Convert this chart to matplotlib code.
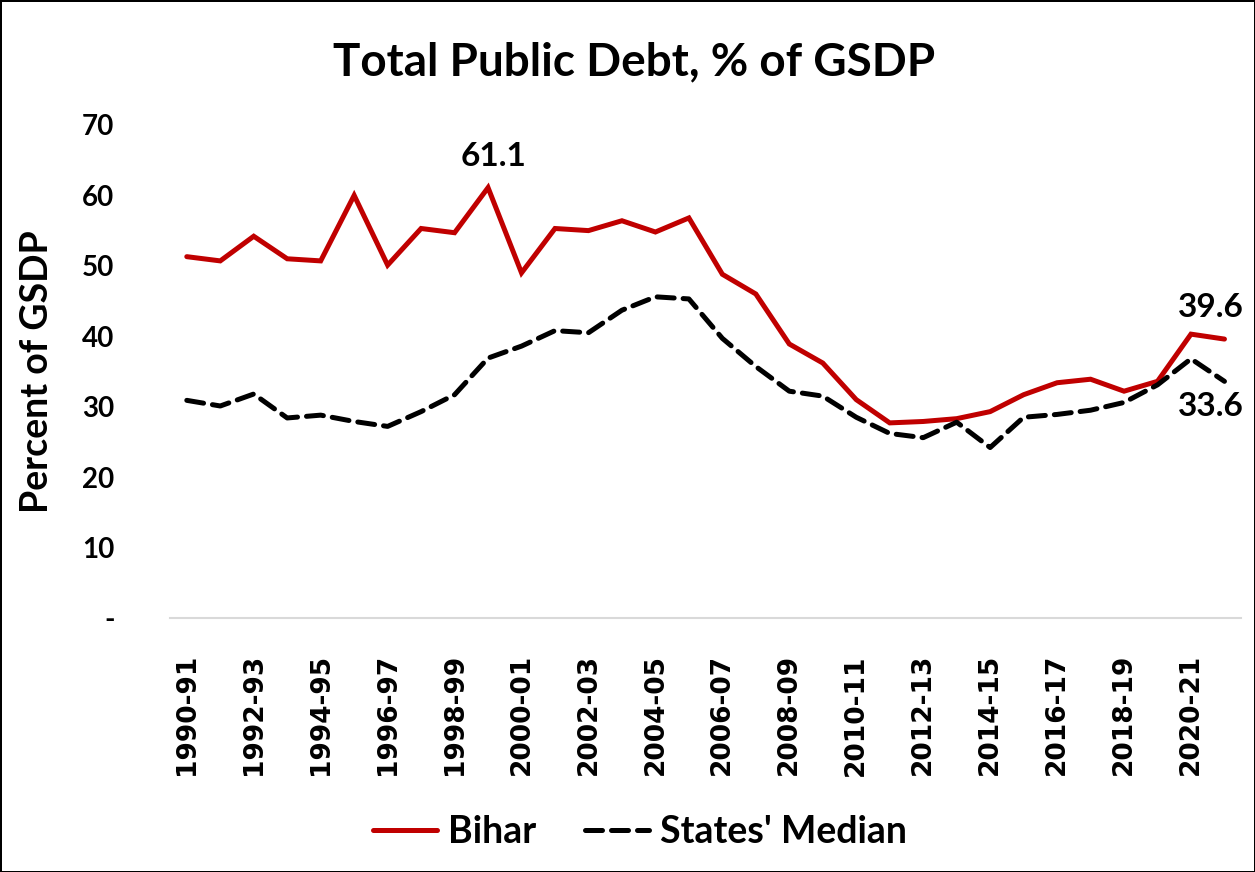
import matplotlib
matplotlib.use("Agg")
from matplotlib import pyplot as plt
import numpy as np

# Total public debt, % of GSDP
years = ["1990-91", "1991-92", "1992-93", "1993-94", "1994-95", "1995-96", "1996-97", "1997-98",
         "1998-99", "1999-00", "2000-01", "2001-02", "2002-03", "2003-04", "2004-05", "2005-06",
         "2006-07", "2007-08", "2008-09", "2009-10", "2010-11", "2011-12", "2012-13", "2013-14",
         "2014-15", "2015-16", "2016-17", "2017-18", "2018-19", "2019-20", "2020-21", "2021-22"]

bihar = [51.3, 50.7, 54.2, 51.0, 50.7, 60.0, 50.1, 55.3, 54.7, 61.1, 49.0, 55.3, 55.0, 56.4, 54.8, 56.8,
         48.8, 46.0, 38.9, 36.2, 31.0, 27.7, 27.9, 28.3, 29.3, 31.7, 33.4, 33.9, 32.2, 33.6, 40.3, 39.6]

median = [30.9, 30.1, 31.8, 28.4, 28.8, 27.9, 27.2, 29.3, 31.7, 36.9, 38.6, 40.8, 40.5, 43.7, 45.6, 45.3,
          39.7, 35.7, 32.2, 31.5, 28.5, 26.2, 25.6, 27.8, 24.2, 28.5, 28.9, 29.5, 30.6, 33.1, 36.8, 33.6]

yticks = [0, 10, 20, 30, 40, 50, 60, 70]
ytick_labels = ["-", "10", "20", "30", "40", "50", "60", "70"]

plt.rcParams['font.family'] = ['Lato', 'DejaVu Sans']

fig = plt.figure(figsize=(12.55, 8.72), dpi=100)
fig.patch.set_edgecolor("black")
fig.patch.set_linewidth(2)
ax = fig.add_axes([0.1355, 0.2913, 0.8535, 0.5654])

x = np.arange(len(years))
ax.plot(x, bihar, c="#C00000", lw=3.6, label="Bihar", solid_capstyle="round", solid_joinstyle="miter")
ax.plot(x, median, c="black", lw=3.6, dashes=(3.4, 1.8), label="States' Median", dash_capstyle="round")

ax.set_xlim(-0.5, len(years) - 0.5)
ax.set_ylim(0, 70)
ax.set_yticks(yticks)
ax.set_yticklabels(ytick_labels, fontsize=20, fontweight="bold")
ax.set_xticks(x[::2])
ax.set_xticklabels(years[::2], rotation=90, fontsize=19, fontweight="bold",
                   family=["DejaVu Sans"])
ax.tick_params(length=0)
ax.tick_params(axis="x", pad=26)
ax.tick_params(axis="y", pad=40)

for s in ["top", "right", "left"]:
    ax.spines[s].set_visible(False)
ax.spines["bottom"].set_color("#D9D9D9")
ax.spines["bottom"].set_linewidth(1.5)

ax.set_ylabel("Percent of GSDP", fontsize=27, fontweight="bold", labelpad=20)
fig.text(0.505, 0.928, "Total Public Debt, % of GSDP", ha="center", va="center",
         fontsize=33, fontweight="bold")

ax.annotate("61.1", (9, bihar[9]), xytext=(4, 12), textcoords="offset points",
            ha="center", va="bottom", fontsize=24, fontweight="bold")
ax.annotate("39.6", (31, bihar[31]), xytext=(-10, 12), textcoords="offset points",
            ha="center", va="bottom", fontsize=24, fontweight="bold")
ax.annotate("33.6", (31, median[31]), xytext=(-10, -8), textcoords="offset points",
            ha="center", va="top", fontsize=24, fontweight="bold")

fig.legend(loc="center", bbox_to_anchor=(0.51, 0.046), ncol=2, frameon=False,
           prop={"size": 27, "weight": "bold"}, handlelength=1.7, columnspacing=1.3,
           handletextpad=0.3)

fig.savefig("out.png", dpi=100)
